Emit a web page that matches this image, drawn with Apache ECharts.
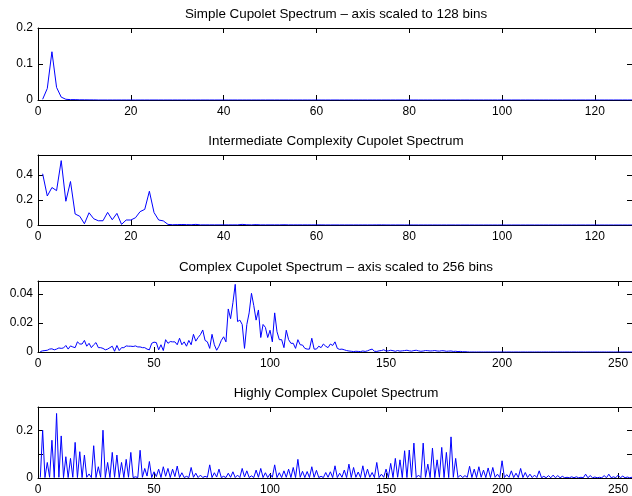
<!DOCTYPE html>
<html>
<head>
<meta charset="utf-8">
<script src="https://cdn.jsdelivr.net/npm/echarts@6/dist/echarts.min.js"></script>
<style>html,body{margin:0;padding:0;background:#fff}#c{width:632px;height:496px}</style>
</head>
<body>
<div id="c"></div>
<script>
const titles = [
  'Simple Cupolet Spectrum \u2013 axis scaled to 128 bins',
  'Intermediate Complexity Cupolet Spectrum',
  'Complex Cupolet Spectrum \u2013 axis scaled to 256 bins',
  'Highly Complex Cupolet Spectrum'
];
const xTicks128 = [0, 20, 40, 60, 80, 100, 120];
const xTicks256 = [0, 50, 100, 150, 200, 250];
const yTicks1 = [0, 0.1, 0.2];
const yLabels1 = [0, 0.1, 0.2];
const yTicks2 = [0, 0.2, 0.4];
const yLabels2 = [0, 0.2, 0.4];
const yTicks3 = [0, 0.02, 0.04];
const yLabels3 = [0, 0.02, 0.04];
const yTicks4 = [0, 0.1, 0.2];
const yLabels4 = [0, 0.2];

const simple = [
0.002,0.032,0.134,0.035,0.008,0.002,0.001,0.001,0.0005,0.0005,0.0003,0.0003,0,0,0,0,
0,0,0,0,0,0,0,0,0,0,0,0,0,0,0,0,
0,0,0,0,0,0,0,0,0,0,0,0,0,0,0,0,
0,0,0,0,0,0,0,0,0,0,0,0,0,0,0,0,
0,0,0,0,0,0,0,0,0,0,0,0,0,0,0,0,
0,0,0,0,0,0,0,0,0,0,0,0,0,0,0,0,
0,0,0,0,0,0,0,0,0,0,0,0,0,0,0,0,
0,0,0,0,0,0,0,0,0,0,0,0,0,0,0,0
];

const intermediate = [
0.41,0.232,0.30,0.275,0.515,0.19,0.348,0.088,0.07,0.01,0.098,0.05,0.034,0.034,0.101,0.042,
0.093,0.005,0.04,0.04,0.058,0.107,0.125,0.27,0.1,0.04,0.033,0.005,0.002,0.003,0.004,0.003,
0.002,0.005,0.001,0.001,0.001,0.001,0.001,0.001,0.001,0.001,0.001,0.005,0.002,0.001,0.003,0.001,
0.001,0.001,0.001,0.001,0.002,0.001,0.001,0.001,0.001,0.001,0.001,0.001,0.001,0.0005,0.0005,0.0005,
0.0005,0.0005,0.0005,0.0005,0.0005,0.0005,0.0005,0.0005,0.0008,0.001,0.0005,0.0003,0.0003,0.0003,0.0003,0.0003,
0.0002,0.0002,0.0002,0.0002,0.0002,0.0001,0.0001,0.0001,0.0001,0.0001,0,0,0,0,0,0,
0,0,0,0,0,0,0,0,0,0,0,0,0,0,0,0,
0,0,0,0,0,0,0,0,0,0,0,0,0,0,0,0
];

const complex = [
0.0003,0.0008,0.001,0.0012,0.002,0.0022,0.0015,0.002,0.0028,0.0025,0.0028,0.0045,0.002,0.0042,0.0035,0.003,
0.007,0.0055,0.0055,0.008,0.004,0.006,0.003,0.005,0.0065,0.003,0.003,0.0025,0.0015,0.002,0.003,0.004,
0.0005,0.0045,0.001,0.003,0.003,0.0042,0.004,0.004,0.0038,0.0042,0.0035,0.0035,0.003,0.003,0.002,0.0015,
0.006,0.0068,0.0065,0.0015,0.005,0.001,0.0085,0.006,0.0072,0.007,0.007,0.005,0.0095,0.005,0.007,0.004,
0.008,0.005,0.0122,0.0075,0.01,0.012,0.0152,0.008,0.007,0.0025,0.0122,0.005,0.0012,0.004,0.008,0.0105,
0.007,0.0297,0.023,0.034,0.0467,0.021,0.022,0.019,0.0025,0.019,0.027,0.0405,0.032,0.022,0.029,0.010,
0.019,0.017,0.010,0.015,0.007,0.027,0.014,0.0085,0.0085,0.003,0.015,0.0085,0.006,0.006,0.0025,0.0085,
0.005,0.0048,0.0025,0.002,0.002,0.0095,0.002,0.002,0.004,0.003,0.0055,0.004,0.003,0.0055,0.0045,0.007,
0.0025,0.0018,0.002,0.0015,0.001,0.0007,0.0005,0.0003,0.0005,0.0004,0.0003,0.0007,0.0004,0.0008,0.0015,0.002,
0.0005,0.0004,0.0008,0.001,0.0015,0.0007,0.0008,0.0012,0.0009,0.0005,0.001,0.0006,0.0008,0.001,0.0012,0.0008,
0.0006,0.001,0.0012,0.0008,0.0005,0.0007,0.001,0.0009,0.0007,0.0008,0.001,0.0007,0.0006,0.0009,0.0008,0.0005,
0.0006,0.0007,0.0004,0.0005,0.0003,0.0004,0.0002,0.0002,0.0001,0,0,0,0,0,0,0,
0,0,0,0,0,0,0,0,0,0,0,0,0,0,0,0,
0,0,0,0,0,0,0,0,0,0,0,0,0,0,0,0,
0,0,0,0,0,0,0,0,0,0,0,0,0,0,0,0,
0,0,0,0,0,0,0,0,0,0,0,0,0,0,0,0
];

const highly = [
0.002,0.2,0.002,0.065,0.003,0.158,0.002,0.27,0.003,0.176,0.002,0.089,0.002,0.082,0.003,0.149,
0.002,0.11,0.002,0.096,0.003,0.017,0.002,0.135,0.002,0.047,0.003,0.2,0.002,0.065,0.002,0.107,
0.003,0.096,0.002,0.065,0.002,0.078,0.003,0.107,0.002,0.005,0.002,0.116,0.003,0.04,0.008,0.069,
0.002,0.026,0.006,0.037,0.002,0.047,0.007,0.04,0.002,0.037,0.006,0.05,0.002,0.022,0.002,0.007,
0.002,0.044,0.003,0.02,0.002,0.012,0.002,0.007,0.003,0.055,0.002,0.022,0.004,0.037,0.002,0.007,
0.002,0.02,0.003,0.026,0.002,0.012,0.002,0.04,0.004,0.03,0.002,0.009,0.002,0.033,0.003,0.04,
0.002,0.022,0.002,0.017,0.003,0.055,0.002,0.022,0.002,0.03,0.003,0.037,0.002,0.044,0.002,0.078,
0.003,0.028,0.002,0.027,0.002,0.047,0.003,0.032,0.002,0.007,0.002,0.023,0.003,0.026,0.002,0.051,
0.002,0.02,0.003,0.033,0.002,0.058,0.002,0.044,0.003,0.025,0.002,0.051,0.002,0.037,0.003,0.023,
0.002,0.065,0.002,0.016,0.003,0.037,0.002,0.061,0.002,0.082,0.003,0.076,0.002,0.114,0.002,0.117,
0.003,0.146,0.002,0.012,0.002,0.146,0.003,0.058,0.002,0.125,0.002,0.076,0.003,0.128,0.002,0.107,
0.002,0.172,0.003,0.082,0.002,0.012,0.002,0.01,0.003,0.049,0.002,0.037,0.002,0.047,0.003,0.033,
0.002,0.042,0.002,0.044,0.003,0.016,0.002,0.072,0.002,0.014,0.003,0.03,0.002,0.02,0.002,0.04,
0.002,0.023,0.002,0.016,0.002,0.012,0.002,0.03,0.001,0.007,0.001,0.01,0.001,0.012,0.001,0.01,
0.001,0.007,0.001,0.003,0.001,0.005,0.001,0.005,0.001,0.003,0.001,0.016,0.001,0.01,0.001,0.004,
0.001,0.003,0.001,0.01,0.001,0.016,0.001,0.005,0.001,0.012,0.001,0.008,0.001,0.004,0.001,0.003
];

const FONT = '"Liberation Sans", Arial, Helvetica, sans-serif';
const panels = [
  {data: simple,       xmax: 128, xt: xTicks128, ymax: 0.2,   yt: yTicks1, yl: yLabels1, top: 28,  h: 72, ty: 14},
  {data: intermediate, xmax: 128, xt: xTicks128, ymax: 0.56,  yt: yTicks2, yl: yLabels2, top: 155, h: 70, ty: 141},
  {data: complex,      xmax: 256, xt: xTicks256, ymax: 0.049, yt: yTicks3, yl: yLabels3, top: 281, h: 71, ty: 267},
  {data: highly,       xmax: 256, xt: xTicks256, ymax: 0.297, yt: yTicks4, yl: yLabels4, top: 407, h: 72, ty: 393}
];

const grid = [], xAxis = [], yAxis = [], series = [], graphic = [];
const lineCfg = {show: true, onZero: false, lineStyle: {color: '#000', width: 1}};
const tickCfg = (vals) => ({show: true, inside: true, length: 5, customValues: vals, lineStyle: {color: '#000', width: 1}});
const labelCfg = (vals, m) => ({show: true, customValues: vals, color: '#000', fontSize: 12, fontFamily: FONT, margin: m});

panels.forEach((p, i) => {
  grid.push({left: 38, top: p.top, width: 595, height: p.h, containLabel: false});
  xAxis.push({type: 'value', gridIndex: i, position: 'bottom', min: 0, max: p.xmax,
    axisLine: lineCfg, axisTick: tickCfg(p.xt), axisLabel: labelCfg(p.xt, 6), splitLine: {show: false}});
  xAxis.push({type: 'value', gridIndex: i, position: 'top', min: 0, max: p.xmax,
    axisLine: lineCfg, axisTick: tickCfg(p.xt), axisLabel: {show: false}, splitLine: {show: false}});
  yAxis.push({type: 'value', gridIndex: i, position: 'left', min: 0, max: p.ymax,
    axisLine: lineCfg, axisTick: tickCfg(p.yt), axisLabel: labelCfg(p.yl, 5), splitLine: {show: false}});
  yAxis.push({type: 'value', gridIndex: i, position: 'right', min: 0, max: p.ymax,
    axisLine: lineCfg, axisTick: tickCfg(p.yt), axisLabel: {show: false}, splitLine: {show: false}});
  series.push({type: 'line', xAxisIndex: 2 * i, yAxisIndex: 2 * i,
    data: p.data.map((v, k) => [k + 1, v]), showSymbol: false, symbol: 'none',
    lineStyle: {color: '#0000ff', width: 1}, z: 5, silent: true});
  graphic.push({type: 'text', x: 336, y: p.ty,
    style: {text: titles[i], fill: '#000', font: '13.4px ' + FONT, textAlign: 'center', textVerticalAlign: 'middle'}});
});

const chart = echarts.init(document.getElementById('c'), null, {renderer: 'canvas'});
chart.setOption({animation: false, backgroundColor: '#fff', grid, xAxis, yAxis, series, graphic});
</script>
</body>
</html>
